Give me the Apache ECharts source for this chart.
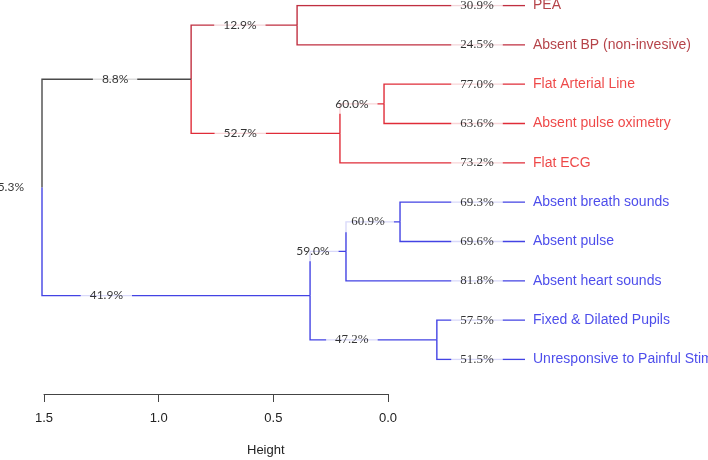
<!DOCTYPE html>
<html>
<head>
<meta charset="utf-8">
<script src="https://cdn.jsdelivr.net/npm/echarts@6/dist/echarts.min.js"></script>
<style>html,body{margin:0;padding:0;background:#fff}#c{width:708px;height:460px}</style>
</head>
<body>
<div id="c"></div>
<script>
// ---------- DATA ----------
const leafNames = ['PEA', 'Absent BP (non-invesive)', 'Flat Arterial Line', 'Absent pulse oximetry', 'Flat ECG',
  'Absent breath sounds', 'Absent pulse', 'Absent heart sounds', 'Fixed & Dilated Pupils', 'Unresponsive to Painful Stim'];
const leafPct = [30.9, 24.5, 77.0, 63.6, 73.2, 69.3, 69.6, 81.8, 57.5, 51.5];
// merge list (R style): negative = leaf number, positive = earlier merge number
const mergePairs = [[-1, -2], [-3, -4], [2, -5], [1, 3], [-6, -7], [5, -8], [-9, -10], [6, 7], [4, 8]];
const mergeHeights = [0.755, 0.467, 0.613, 1.106, 0.414, 0.593, 0.292, 0.712, 1.6];
const mergePct = [12.9, 60.0, 52.7, 8.8, 60.9, 59.0, 47.2, 41.9, 5.3];
const axisTicks = [0, 0.5, 1.0, 1.5];
const axisName = 'Height';

// ---------- LAYOUT / STYLE ----------
const labelAlong = [0.46, 0.27, 0.33, 0.49, 0.41, 0.08, 0.33, 0.24];
const leafLabelH = 0.159;
const leafCluster = [0, 0, 1, 1, 1, 2, 2, 2, 2, 2];
const clusterLine = ['#c02f40', '#e02c38', '#4343e4'];
const clusterText = ['#a3141c', '#ea1a1a', '#2020e6'];
const mergeEdgeColor = ['#c02f40', '#e02c38', '#e02c38', '#4a4a4a', '#4343e4', '#4343e4', '#4343e4', '#4343e4', null];
const mergeSerif = [false, false, false, false, true, false, true, false, false];
const SANS = 'Lato, "Open Sans", sans-serif';
const SERIF = '"Liberation Serif", "DejaVu Serif", serif';
const NARROW = '"Liberation Sans Narrow", "Liberation Sans", Arial, sans-serif';
const TREE_MAX = 1.6;

// ---------- BUILD ----------
function nodeH(id) { return id < 0 ? 0 : mergeHeights[id - 1]; }
const yCache = {};
function nodeY(id) {
  if (id < 0) return -id - 1;
  if (yCache[id] !== undefined) return yCache[id];
  const p = mergePairs[id - 1];
  return (yCache[id] = (nodeY(p[0]) + nodeY(p[1])) / 2);
}
const edges = [];
const pctLabels = [];
mergePairs.forEach((pair, k) => {
  const id = k + 1, hp = nodeH(id), yp = nodeY(id);
  pair.forEach(c => {
    const hc = nodeH(c), yc = nodeY(c);
    const color = c < 0 ? clusterLine[leafCluster[-c - 1]] : mergeEdgeColor[c - 1];
    edges.push({ coords: [[hp, yp], [hp, yc], [hc, yc]], lineStyle: { color: color, opacity: 1, width: 1.4 } });
    if (c < 0) {
      pctLabels.push({ value: [leafLabelH, yc], txt: leafPct[-c - 1].toFixed(1) + '%', serif: true });
    } else {
      pctLabels.push({ value: [hp + (hc - hp) * labelAlong[c - 1], yc], txt: mergePct[c - 1].toFixed(1) + '%', serif: mergeSerif[c - 1] });
    }
  });
});
const rootId = mergePairs.length;
const rootLabel = [{ value: [nodeH(rootId), nodeY(rootId)], txt: mergePct[rootId - 1].toFixed(1) + '%' }];
const leafData = leafNames.map((n, i) => ({
  value: [0, i], name: n,
  label: { color: clusterText[leafCluster[i]] }
}));

const chart = echarts.init(document.getElementById('c'), null, { renderer: 'canvas' });
chart.setOption({
  animation: false,
  backgroundColor: '#ffffff',
  title: {
    text: axisName, left: 247, top: 444, padding: 0,
    textStyle: { fontSize: 13, fontWeight: 'normal', color: '#222', fontFamily: NARROW }
  },
  grid: [
    { left: 42, width: 483, top: 5.5, height: 354 },
    { left: 44, width: 344, top: 380, height: 14 }
  ],
  xAxis: [
    { gridIndex: 0, type: 'value', inverse: true, min: 0, max: TREE_MAX, show: false },
    {
      gridIndex: 1, type: 'value', inverse: true,
      min: axisTicks[0], max: axisTicks[axisTicks.length - 1], interval: axisTicks[1] - axisTicks[0],
      position: 'bottom',
      axisLine: { show: true, lineStyle: { color: '#444', width: 1 } },
      axisTick: { show: true, length: 8, lineStyle: { color: '#444' } },
      axisLabel: { margin: 18, fontSize: 13, color: '#222', fontFamily: NARROW, formatter: v => v.toFixed(1) },
      splitLine: { show: false }
    }
  ],
  yAxis: [
    { gridIndex: 0, type: 'value', inverse: true, min: 0, max: leafNames.length - 1, show: false },
    { gridIndex: 1, type: 'value', show: false }
  ],
  series: [
    {
      type: 'lines', coordinateSystem: 'cartesian2d', xAxisIndex: 0, yAxisIndex: 0,
      polyline: true, z: 2, silent: true,
      lineStyle: { width: 1.4, opacity: 1 },
      data: edges
    },
    {
      type: 'scatter', xAxisIndex: 0, yAxisIndex: 0, symbolSize: 0, z: 5, silent: true,
      data: pctLabels.map(d => ({
        value: d.value,
        label: {
          show: true, position: 'inside', formatter: d.txt,
          fontFamily: d.serif ? SERIF : SANS, fontSize: d.serif ? 13 : 12,
          color: '#000', backgroundColor: '#ffffff', padding: [4, 9]
        }
      }))
    },
    {
      type: 'scatter', xAxisIndex: 0, yAxisIndex: 0, symbolSize: 0, z: 5, silent: true,
      data: rootLabel.map(d => ({
        value: d.value,
        label: { show: true, position: 'left', distance: 18, formatter: d.txt, fontFamily: SANS, fontSize: 12, color: '#000' }
      }))
    },
    {
      type: 'scatter', xAxisIndex: 0, yAxisIndex: 0, symbolSize: 0, z: 5, silent: true,
      data: leafData,
      label: { show: true, position: 'right', distance: 8, formatter: '{b}', fontSize: 14, fontFamily: '"Liberation Sans", Arial, sans-serif' }
    }
  ]
});
</script>
</body>
</html>
